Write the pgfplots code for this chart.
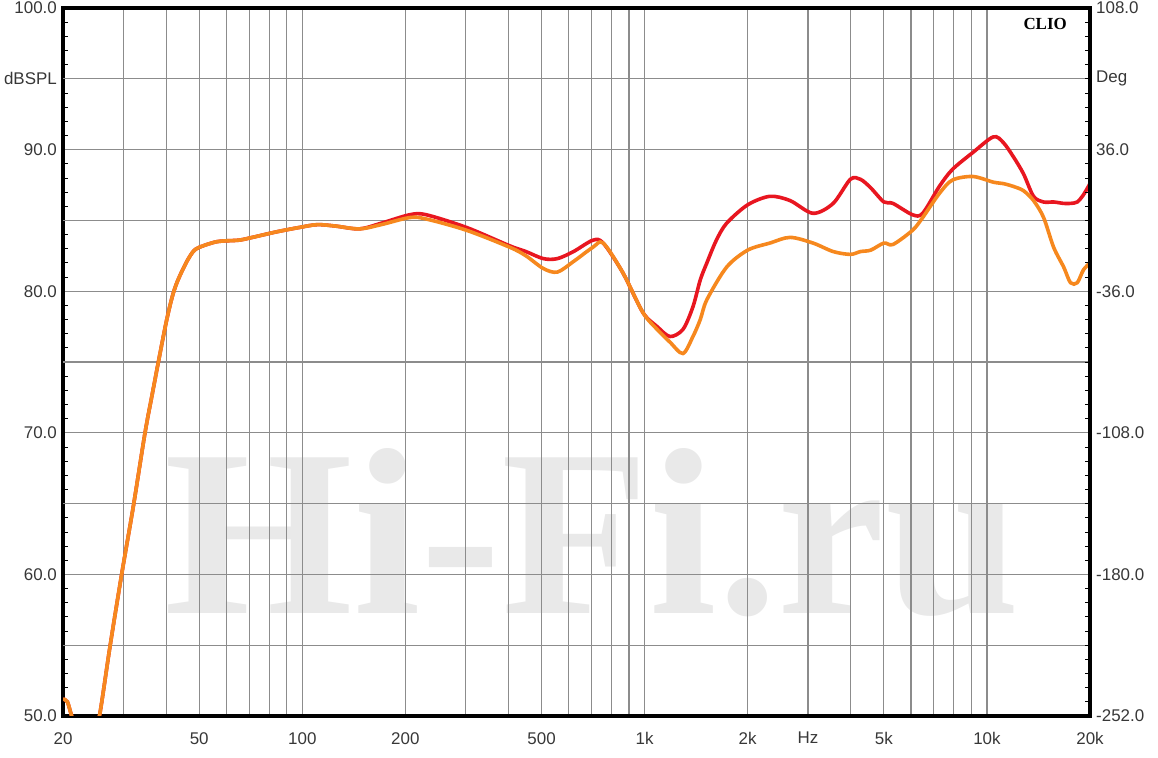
\documentclass[border=0pt]{standalone}
\usepackage{pgfplots}
\pgfplotsset{compat=1.18}
\usepackage{fontspec}
\setmainfont{Liberation Sans}
\newfontfamily\serifb{Liberation Serif}
\definecolor{cred}{RGB}{232,22,32}
\definecolor{corange}{RGB}{246,136,30}
\definecolor{cgrid}{RGB}{140,140,140}
\definecolor{clabel}{RGB}{55,55,55}
\definecolor{cwater}{RGB}{233,233,233}

\pgfplotstableread{
f dB
20 51.2
20.6 51.0
21.2 50.0
22 49.0
23.5 48.4
24.8 49.0
25.64 50.2
27.43 54.9
29.67 60.0
32.09 64.8
34.72 70.0
36.5 72.8
38.41 75.6
40.19 78.0
41.8 79.7
43.35 80.8
46 82.1
48 82.8
50 83.1
56.4 83.5
65 83.6
70 83.75
84.4 84.2
98 84.5
110.6 84.7
125 84.6
147 84.4
170 84.7
206 85.2
230 85.1
302 84.3
404 83.1
450 82.5
506 81.6
556 81.35
620 82.1
706 83.1
757 83.4
864 81.3
988 78.5
1088 77.3
1186 76.4
1294 75.6
1384 76.8
1454 78.0
1520 79.4
1736 81.7
2000 82.9
2322 83.4
2660 83.8
3104 83.4
3554 82.8
3990 82.6
4272 82.8
4576 82.9
5000 83.4
5314 83.3
6060 84.3
6490 85.2
7260 86.9
7930 87.85
9100 88.1
10440 87.7
11160 87.6
11940 87.4
12780 87.1
13680 86.4
14640 85.2
15660 83.1
16760 81.7
17540 80.6
18360 80.6
19130 81.5
20000 82.0
}\orangedata

\pgfplotstableread{
f dB
20 51.2
20.6 51.0
21.2 50.0
22 49.0
23.5 48.4
24.8 49.0
25.64 50.2
27.43 54.9
29.67 60.0
32.09 64.8
34.72 70.0
36.5 72.8
38.41 75.6
40.19 78.0
41.8 79.7
43.35 80.8
46 82.1
48 82.8
50 83.1
56.4 83.5
65 83.6
70 83.75
84.4 84.2
98 84.5
110.6 84.7
125 84.6
147 84.4
170 84.8
206 85.4
230 85.4
302 84.5
404 83.2
450 82.8
506 82.3
556 82.3
620 82.8
706 83.6
757 83.4
864 81.3
988 78.5
1088 77.5
1186 76.8
1294 77.3
1384 78.9
1454 80.8
1520 82.0
1620 83.6
1736 84.8
2000 86.1
2322 86.7
2660 86.4
3104 85.5
3554 86.2
3990 87.9
4272 87.9
4576 87.3
5000 86.3
5314 86.2
6060 85.4
6490 85.5
7260 87.4
7930 88.6
9100 89.8
10440 90.9
11160 90.5
11940 89.5
12780 88.3
13680 86.7
14640 86.3
15660 86.3
16760 86.2
17540 86.2
18360 86.3
19130 86.8
20000 87.6
}\reddata

\begin{document}
\begin{tikzpicture}
% watermark (behind grid)
\node[inner sep=0pt, text=cwater] at (592.5bp,225.5bp)
  {\resizebox{855bp}{165bp}{\serifb\bfseries Hi-Fi.ru}};

\begin{axis}[
  at={(63bp,42bp)}, anchor=south west,
  scale only axis, width=1027bp, height=708bp,
  xmode=log, xmin=20, xmax=20000, ymin=50, ymax=100,
  log basis x=10,
  xtick={20,50,100,200,500,1000,2000,3000,5000,10000,20000},
  xticklabels={20,50,100,200,500,1k,2k,Hz,5k,10k,20k},
  minor xtick={30,40,60,70,80,90,300,400,600,700,800,900,4000,6000,7000,8000,9000},
  ytick={50,60,70,80,90,100},
  yticklabels={50.0,60.0,70.0,80.0,90.0,100.0},
  minor y tick num=9,
  extra y ticks={55,65,75,85,95},
  extra y tick labels={,,,,dBSPL},
  extra y tick style={grid=major, major tick length=0pt},
  xmajorgrids=true, xminorgrids=true, ymajorgrids=true, yminorgrids=false,
  grid style={draw=cgrid, line width=1.1bp},
  major grid style={draw=cgrid, line width=1.1bp},
  minor grid style={draw=cgrid, line width=1.1bp},
  x tick style={draw=none},
  ytick pos=left,
  tick align=inside,
  major tick length=0pt,
  minor tick length=5bp,
  minor y tick style={draw=black, line width=0.8bp},
  axis line style={line width=3.2bp, draw=black},
  ticklabel style={font=\fontsize{17}{17}\selectfont, text=clabel},
  yticklabel style={anchor=east, inner sep=0pt, xshift=-6bp},
  xticklabel style={anchor=north, inner sep=0pt, yshift=-16bp},
  clip=true,
]
\addplot[cred, line width=3.6bp, smooth, tension=0.5] table[x=f,y=dB] {\reddata};
\addplot[corange, line width=3.6bp, smooth, tension=0.5] table[x=f,y=dB] {\orangedata};
\node[anchor=east, inner sep=0pt, font=\serifb\bfseries\fontsize{17}{17}\selectfont]
  at (axis description cs:0.9776,0.977) {CLIO};
\end{axis}

\begin{axis}[
  at={(63bp,42bp)}, anchor=south west,
  scale only axis, width=1027bp, height=708bp,
  xmin=0, xmax=1, ymin=-252, ymax=108,
  axis x line=none,
  axis y line*=right,
  ytick={-252,-180,-108,-36,36,108},
  yticklabels={-252.0,-180.0,-108.0,-36.0,36.0,108.0},
  minor y tick num=9,
  extra y ticks={72},
  extra y tick labels={Deg},
  tick align=inside,
  major tick length=0pt,
  minor tick length=5bp,
  minor y tick style={draw=black, line width=0.8bp},
  axis line style={line width=3.2bp, draw=black},
  ticklabel style={font=\fontsize{17}{17}\selectfont, text=clabel},
  yticklabel style={anchor=west, inner sep=0pt, xshift=6bp},
]
\addplot[draw=none] coordinates {(0.5,0)};
\end{axis}

\pgfresetboundingbox
\path[use as bounding box] (0,0) rectangle (1158bp,758bp);
\end{tikzpicture}
\end{document}
